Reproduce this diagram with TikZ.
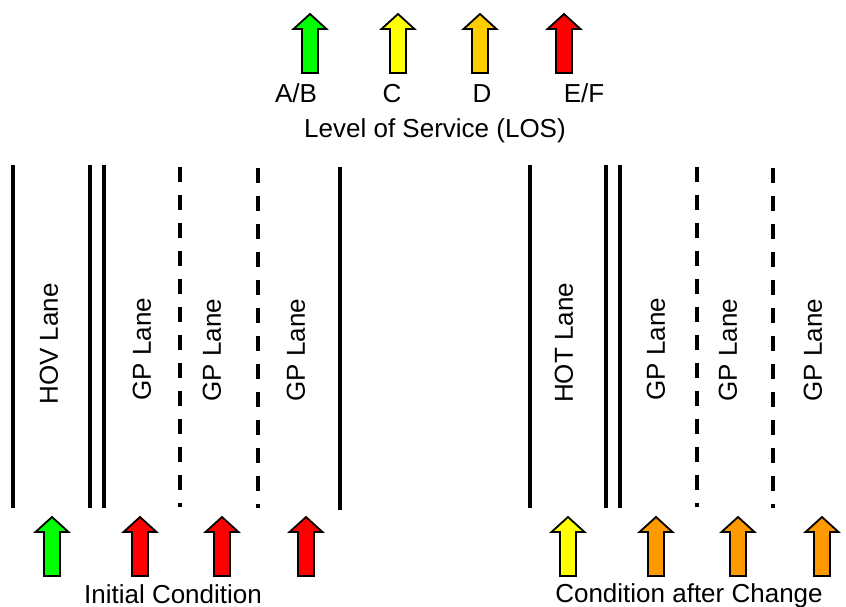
\documentclass[tikz,border=0pt]{standalone}
\usepackage{fontspec}
\setmainfont{Liberation Sans}
\definecolor{losgreen}{HTML}{00FF00}
\definecolor{losyellow}{HTML}{FFFF00}
\definecolor{losamber}{HTML}{FFCC00}
\definecolor{losorange}{HTML}{FF9900}
\definecolor{losred}{HTML}{FF0000}
\begin{document}
\begin{tikzpicture}[x=1pt,y=-1pt]
\tikzset{
  laneline/.style={line width=3.5pt},
  lanedash/.style={line width=3.5pt, dash pattern=on 15pt off 13pt},
  lanetext/.style={rotate=90, font=\fontsize{26}{31}\selectfont, inner sep=0pt},
  lbl/.style={font=\fontsize{26}{31}\selectfont, inner sep=0pt, anchor=base},
  pics/losarrow/.style={code={\draw[line width=1.8pt, fill=#1, line join=miter]
      (0,0) -- (16.5,15) -- (8,15) -- (8,59) -- (-8,59) -- (-8,15) -- (-16.5,15) -- cycle;}}
}
\useasboundingbox (0,0) rectangle (846,607);
\fill[white] (0,0) rectangle (846,607);

% legend
\pic (lgAB) at (310,14) {losarrow=losgreen};
\pic (lgC) at (398,14) {losarrow=losyellow};
\pic (lgD) at (480,14) {losarrow=losamber};
\pic (lgEF) at (564,14) {losarrow=losred};
\node[lbl] (tAB) at (296,103) {A/B};
\node[lbl] (tC) at (392,103) {C};
\node[lbl] (tD) at (482,103) {D};
\node[lbl] (tEF) at (584,103) {E/F};
\node[lbl] (tLOS) at (435,138) {Level of Service (LOS)};

% left road
\draw[laneline] (13,165) -- (13,508);
\draw[laneline] (90,165) -- (90,508);
\draw[laneline] (104,165) -- (104,508);
\draw[lanedash] (180,167) -- (180,507);
\draw[lanedash] (258,168) -- (258,508);
\draw[laneline] (340,167) -- (340,510);
\node[lanetext] (hov) at (49,344) {HOV Lane};
\node[lanetext] (gpa) at (142,349) {GP Lane};
\node[lanetext] (gpb) at (212,350) {GP Lane};
\node[lanetext] (gpc) at (296,350) {GP Lane};

% right road
\draw[laneline] (530,165) -- (530,508);
\draw[laneline] (606,165) -- (606,508);
\draw[laneline] (620,165) -- (620,508);
\draw[lanedash] (697,167) -- (697,507);
\draw[lanedash] (773,168) -- (773,508);
\node[lanetext] (hot) at (564,343) {HOT Lane};
\node[lanetext] (gpd) at (656,349) {GP Lane};
\node[lanetext] (gpe) at (728,350) {GP Lane};
\node[lanetext] (gpf) at (813,350) {GP Lane};

% bottom arrows left
\pic (a1) at (52,517) {losarrow=losgreen};
\pic (a2) at (140,517) {losarrow=losred};
\pic (a3) at (222,517) {losarrow=losred};
\pic (a4) at (306,517) {losarrow=losred};
\node[lbl] (init) at (173,603) {Initial Condition};

% bottom arrows right
\pic (b1) at (568,517) {losarrow=losyellow};
\pic (b2) at (656,517) {losarrow=losorange};
\pic (b3) at (738,517) {losarrow=losorange};
\pic (b4) at (822,517) {losarrow=losorange};
\node[lbl] (after) at (689,602) {Condition after Change};
\end{tikzpicture}
\end{document}
